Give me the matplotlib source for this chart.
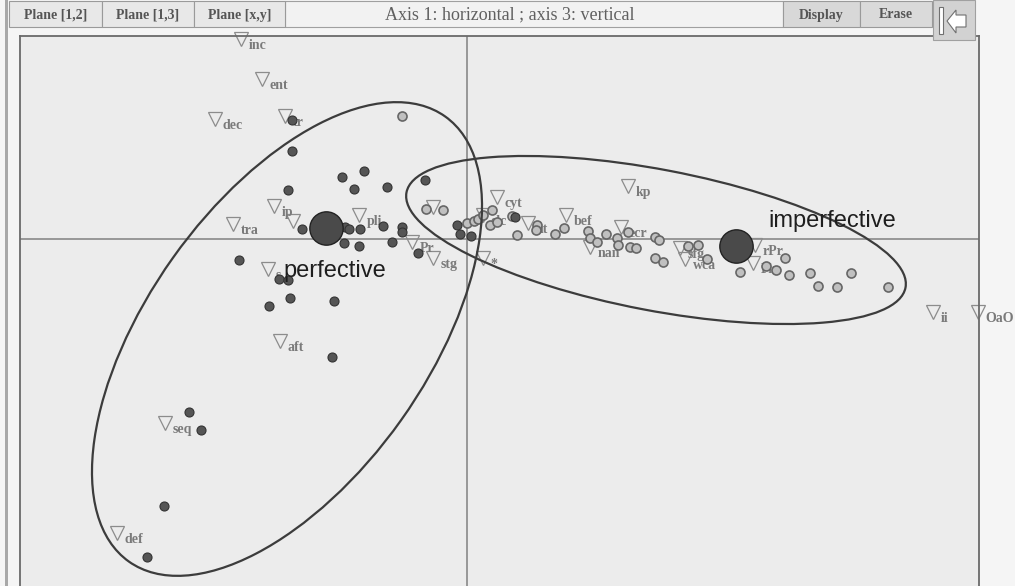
import matplotlib.pyplot as plt
from matplotlib.patches import Ellipse, Rectangle, Polygon

# scores on axis 1 (horizontal) and axis 3 (vertical)
perf_x = [-1.75, -1.75, -1.25, -1.03, -1.13, -0.80, -1.79, -0.42, -1.65, -1.22,
          -1.18, -1.07, -0.84, -0.65, -0.65, -1.23, -1.08, -0.75, -0.49, -2.28,
          -1.88, -1.79, -1.77, -1.98, -1.33, -1.35, -2.78, -2.66, -3.03, -3.20,
          -0.10, -0.07, 0.04, 0.48]
perf_y = [1.19, 0.88, 0.62, 0.68, 0.50, 0.52, 0.49, 0.59, 0.10, 0.12,
          0.10, 0.10, 0.13, 0.12, 0.07, -0.04, -0.07, -0.03, -0.14, -0.21,
          -0.40, -0.41, -0.59, -0.67, -0.62, -1.18, -1.73, -1.91, -2.67, -3.18,
          0.14, 0.05, 0.03, 0.22]

impf_x = [-0.65, -0.41, -0.24, 0.00, 0.07, 0.11, 0.16, 0.25, 0.23, 0.30,
          0.45, 0.50, 0.70, 0.69, 0.88, 0.97, 1.21, 1.23, 1.30, 1.39,
          1.50, 1.51, 1.61, 1.63, 1.69, 1.88, 1.92, 1.88, 1.96, 2.21,
          2.31, 2.40, 2.73, 2.99, 3.09, 3.18, 3.22, 3.43, 3.51, 3.70,
          3.84, 4.21]
impf_y = [1.23, 0.30, 0.29, 0.16, 0.18, 0.20, 0.24, 0.29, 0.14, 0.17,
          0.23, 0.04, 0.14, 0.09, 0.05, 0.11, 0.08, 0.01, -0.03, 0.05,
          0.01, -0.06, 0.07, -0.08, -0.09, 0.02, -0.01, -0.19, -0.23, -0.07,
          -0.06, -0.20, -0.33, -0.27, -0.31, -0.19, -0.36, -0.34, -0.47, -0.48,
          -0.34, -0.48]

# supplementary modalities (triangles)
mod_labels = ['inc', 'ent', 'dec', 'tr', 'ip', '', 'tra', 'pli', 's', 'aft',
              'seq', 'def', 'Pr', 'stg', '*', '', 'cyt', 'elc', 'nt', 'bef',
              'nan', 'ecr', 'kp', 'sfg', 'wca', 'rPr', 'Pin', 'ii', 'OaO']
mod_x = [-2.26, -2.05, -2.52, -1.82, -1.93, -1.74, -2.34, -1.08, -1.99, -1.87,
         -3.02, -3.50, -0.55, -0.34, 0.16, -0.34, 0.30, 0.16, 0.61, 0.99,
         1.23, 1.54, 1.61, 2.13, 2.18, 2.88, 2.86, 4.66, 5.11]
mod_y = [2.00, 1.60, 1.20, 1.23, 0.33, 0.18, 0.15, 0.24, -0.30, -1.02,
         -1.84, -2.94, -0.03, -0.19, -0.19, 0.32, 0.42, 0.24, 0.16, 0.24,
         -0.08, 0.12, 0.53, -0.09, -0.20, -0.06, -0.24, -0.73, -0.73]

# group centroids and their ellipses
groups = ['perfective', 'imperfective']
cent_x = [-1.41, 2.69]
cent_y = [0.11, -0.07]
ell_x = [-1.80, 1.89]
ell_y = [-1.00, -0.01]
ell_w = [5.46, 5.08]
ell_h = [2.80, 1.41]
ell_angle = [54.6, -10.8]

W, H = 1015, 586
fig = plt.figure(figsize=(W / 100, H / 100), dpi=100)
fig.patch.set_facecolor('#f5f5f5')

ax = fig.add_axes([20 / W, -6 / H, 959 / W, 556 / H], zorder=1)
ax.set_facecolor('#ececec')
ax.set_xlim(-4.47, 5.12)
ax.set_ylim(-3.53, 2.03)
ax.set_xticks([])
ax.set_yticks([])
for s in ax.spines.values():
    s.set_color('#6a6a6a')
    s.set_linewidth(1.3)

ax.axhline(0, color='#808080', lw=1.1, zorder=1)
ax.axvline(0, color='#808080', lw=1.1, zorder=1)

ax.plot(impf_x, impf_y, 'o', ms=6.5, mfc='#c0c0c0', mec='#666666', mew=1.2, zorder=3)
ax.plot(perf_x, perf_y, 'o', ms=6.5, mfc='#555555', mec='#333333', mew=0.8, zorder=3)

ax.plot(mod_x, mod_y, 'v', ms=10, mfc='none', mec='#8c8c8c', mew=0.9, zorder=2,
        clip_on=False)
for lab, x, y in zip(mod_labels, mod_x, mod_y):
    ax.annotate(lab, (x, y), xytext=(5.5, -4.5), textcoords='offset points',
                ha='left', va='center', fontsize=10, fontweight='bold',
                family='Liberation Serif', color='#7a7a7a', zorder=2)

for i in range(2):
    ax.add_patch(Ellipse((ell_x[i], ell_y[i]), ell_w[i], ell_h[i], angle=ell_angle[i],
                         fill=False, ec='#3c3c3c', lw=1.6, zorder=4))

ax.plot(cent_x, cent_y, 'o', ms=24, mfc='#4a4a4a', mec='#222222', mew=1, zorder=5)
offsets = [(-31, -31), (23, 18)]
for name, x, y, off in zip(groups, cent_x, cent_y, offsets):
    ax.annotate(name, (x, y), xytext=off, textcoords='offset points',
                ha='left', va='center', fontsize=17, family='Liberation Sans',
                color='#1e1e1e', zorder=6)

# window chrome: toolbar and left edge
ui = fig.add_axes([0, 0, 1, 1], zorder=3)
ui.set_xlim(0, W)
ui.set_ylim(H, 0)
ui.axis('off')

ui.add_patch(Rectangle((5, 0), 3, H, fc='#a8a8a8', ec='none'))

buttons = [('Plane [1,2]', 9, 102, '#e8e8e8'), ('Plane [1,3]', 102, 194, '#e8e8e8'),
           ('Plane [x,y]', 194, 285, '#e8e8e8'), ('Display', 783, 860, '#d8d8d8'),
           ('Erase', 860, 932, '#dadada')]
ui.add_patch(Rectangle((285, 1), 498, 26, fc='#f2f2f2', ec='#a0a0a0', lw=0.8))
ui.text(510, 15, 'Axis 1: horizontal ; axis 3: vertical', ha='center', va='center',
        fontsize=13, family='Liberation Serif', color='#606060')
for lab, x0, x1, fc in buttons:
    ui.add_patch(Rectangle((x0, 1), x1 - x0, 26, fc=fc, ec='#9a9a9a', lw=0.8))
    ui.text((x0 + x1) / 2, 15, lab, ha='center', va='center', fontsize=10,
            fontweight='bold', family='Liberation Serif', color='#555555')

ui.add_patch(Rectangle((933, 0), 42, 40, fc='#d2d2d2', ec='#a0a0a0', lw=0.8))
ui.add_patch(Rectangle((939, 7), 4, 27, fc='white', ec='#707070', lw=0.8))
ui.add_patch(Polygon([(947, 21), (956, 10), (956, 15), (966, 15), (966, 27),
                      (956, 27), (956, 33)], closed=True, fc='white', ec='#707070', lw=0.8))

fig.savefig('out.png', dpi=100, facecolor=fig.get_facecolor())
